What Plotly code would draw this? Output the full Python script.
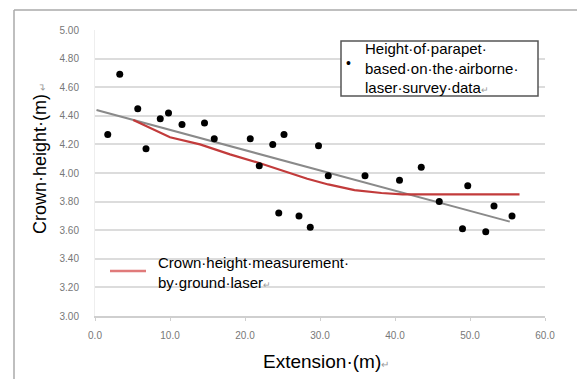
import plotly.graph_objects as go

# Airborne laser survey points (extension m, crown height m)
air_x = [1.7, 3.3, 5.7, 6.8, 8.7, 9.8, 11.6, 14.6, 15.9, 20.7, 21.9, 23.7, 25.2,
         24.5, 27.2, 28.7, 29.8, 31.1, 36.0, 40.6, 43.5, 45.9, 49.0, 49.7, 52.1, 53.2, 55.6]
air_y = [4.27, 4.69, 4.45, 4.17, 4.38, 4.42, 4.34, 4.35, 4.24, 4.24, 4.05, 4.20, 4.27,
         3.72, 3.70, 3.62, 4.19, 3.98, 3.98, 3.95, 4.04, 3.80, 3.61, 3.91, 3.59, 3.77, 3.70]

# Ground laser crown height measurement
ground_x = [5.1, 8.7, 10.0, 14.0, 18.0, 21.9, 24.8, 28.3, 31.1, 34.6, 38.2, 41.0, 56.6]
ground_y = [4.37, 4.28, 4.25, 4.20, 4.13, 4.07, 4.02, 3.96, 3.92, 3.88, 3.86, 3.85, 3.85]

# Linear trend line endpoints
trend_x = [0.2, 55.3]
trend_y = [4.44, 3.66]

x_ticks = [0, 10, 20, 30, 40, 50, 60]
x_tick_text = ["0.0", "10.0", "20.0", "30.0", "40.0", "50.0", "60.0"]
y_ticks = [3.0, 3.2, 3.4, 3.6, 3.8, 4.0, 4.2, 4.4, 4.6, 4.8, 5.0]
y_tick_text = ["3.00", "3.20", "3.40", "3.60", "3.80", "4.00", "4.20", "4.40", "4.60", "4.80", "5.00"]

# page has an 8px body margin; plot area in page pixels: x 95..545, y 30..316
OFF = 8
L, R, T, B = 95, 545, 30, 316
W, H = 585 - OFF, 379 - OFF


def px(x):
    return (x - L) / (R - L)


def py(y):
    return (B - y) / (B - T)


fig = go.Figure()
fig.add_trace(go.Scatter(x=trend_x, y=trend_y, mode="lines",
                         line=dict(color="#8a8a8a", width=2), hoverinfo="skip"))
fig.add_trace(go.Scatter(x=ground_x, y=ground_y, mode="lines",
                         line=dict(color="#c23b3b", width=2.2)))
fig.add_trace(go.Scatter(x=air_x, y=air_y, mode="markers",
                         marker=dict(color="black", size=7)))

font = "Liberation Sans, Arial, sans-serif"

fig.update_layout(
    width=W, height=H,
    margin=dict(l=L - OFF, r=W - (R - OFF), t=T - OFF, b=H - (B - OFF)),
    paper_bgcolor="white", plot_bgcolor="white",
    showlegend=False,
    font=dict(family=font),
    xaxis=dict(range=[0, 60], tickvals=x_ticks, ticktext=x_tick_text,
               showgrid=False, zeroline=False, showline=True,
               linecolor="#cfcfcf", linewidth=1.5,
               ticks="outside", ticklen=3, tickcolor="#cfcfcf",
               tickfont=dict(size=10, color="#777", family=font),
               ticklabelstandoff=6),
    yaxis=dict(range=[3, 5], tickvals=y_ticks, ticktext=y_tick_text,
               showgrid=True, gridcolor="#dcdcdc", gridwidth=1.5,
               zeroline=False, showline=True, linecolor="#eeeeee",
               tickfont=dict(size=10, color="#777", family=font),
               ticklabelstandoff=13),
    shapes=[
        # outer frame lines
        dict(type="line", xref="paper", yref="paper", x0=px(14), x1=px(600), y0=py(10), y1=py(10),
             line=dict(color="#aaaaaa", width=1.5)),
        dict(type="line", xref="paper", yref="paper", x0=px(14), x1=px(14), y0=py(10), y1=py(400),
             line=dict(color="#aaaaaa", width=1.5)),
        # legend box for airborne data
        dict(type="rect", xref="paper", yref="paper", x0=px(341), x1=px(538),
             y0=py(96), y1=py(41), line=dict(color="#555555", width=1.5),
             fillcolor="white"),
        # red legend line sample
        dict(type="line", xref="paper", yref="paper", x0=px(110), x1=px(146),
             y0=py(271), y1=py(271), line=dict(color="#e07a7a", width=2.5)),
    ],
    annotations=[
        dict(text="Crown·height·(m)<span style='font-size:10px;color:#999'> ↵</span>",
             xref="paper", yref="paper", x=px(40), y=py(159),
             xanchor="center", yanchor="middle",
             textangle=-90, showarrow=False, font=dict(size=18, color="black", family=font)),
        dict(text="Extension·(m)<span style='font-size:10px;color:#999'>↵</span>",
             xref="paper", yref="paper", x=px(326), y=py(361),
             xanchor="center", yanchor="middle",
             showarrow=False, font=dict(size=19, color="black", family=font)),
        dict(text="Height·of·parapet·<br>based·on·the·airborne·<br>laser·survey·data<span style='font-size:9px;color:#999'>↵</span>",
             xref="paper", yref="paper", x=px(363), y=py(68),
             xanchor="left", yanchor="middle", align="left", showarrow=False,
             font=dict(size=15, color="black", family=font)),
        dict(text="•", xref="paper", yref="paper", x=px(348), y=py(63),
             xanchor="center", yanchor="middle",
             showarrow=False, font=dict(size=14, color="black", family=font)),
        dict(text="Crown·height·measurement·<br>by·ground·laser<span style='font-size:9px;color:#999'>↵</span>",
             xref="paper", yref="paper", x=px(156), y=py(272),
             xanchor="left", yanchor="middle", align="left", showarrow=False,
             font=dict(size=15, color="black", family=font)),
    ],
)

fig.write_html("out.html")
